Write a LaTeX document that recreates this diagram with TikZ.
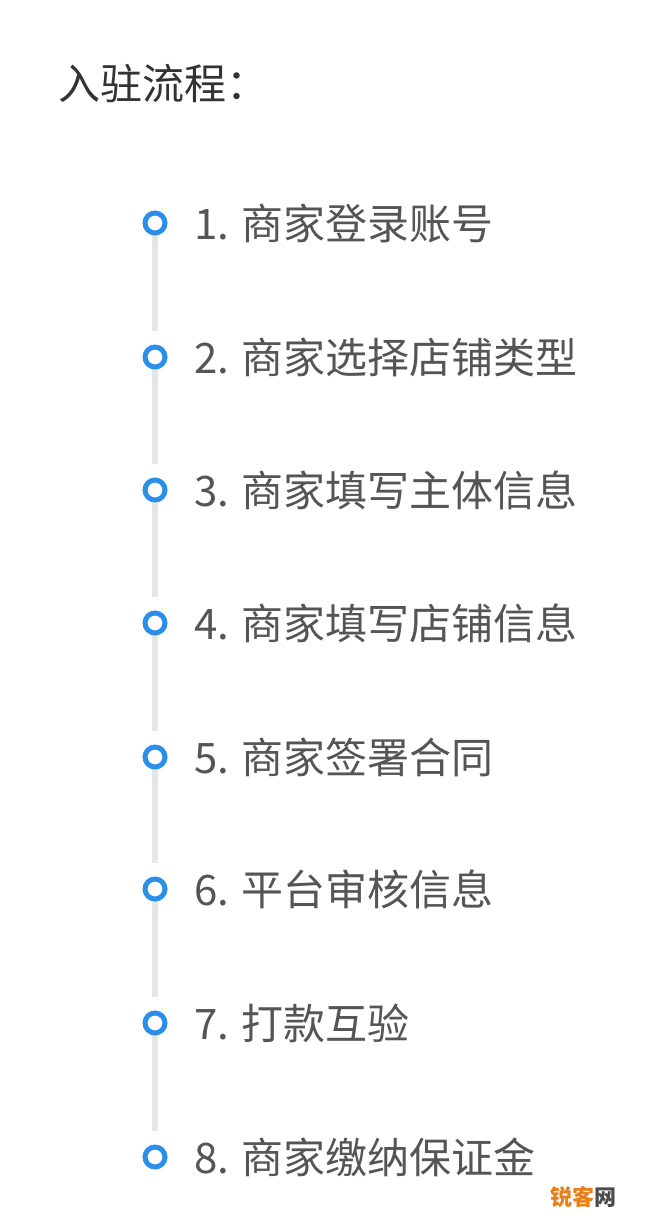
\documentclass[tikz,border=0pt]{standalone}
\usepackage{fontspec}
\newfontfamily\cjk{Noto Sans CJK SC}
\definecolor{dotblue}{HTML}{2B8FE8}
\definecolor{railgray}{HTML}{E6E6E6}
\definecolor{txtgray}{HTML}{555555}
\definecolor{wmorange}{HTML}{E8801A}
\begin{document}
\begin{tikzpicture}[x=1pt,y=-1pt,
  dot/.style={circle,draw=dotblue,line width=5pt,fill=white,minimum size=20pt,inner sep=0pt},
  rail/.style={draw=railgray,line width=6pt},
  item/.style={anchor=west,text=txtgray,font=\cjk\fontsize{42}{46}\selectfont,inner sep=0pt}]
\useasboundingbox[fill=white] (0,0) rectangle (669,1232);
\node[anchor=west,inner sep=0pt,text=black!80,font=\cjk\fontsize{42}{46}\selectfont] (title) at (58,83) {入驻流程：};
\foreach \i/\y/\t in {1/223/1. 商家登录账号,2/357/2. 商家选择店铺类型,3/490/3. 商家填写主体信息,4/623/4. 商家填写店铺信息,5/757/5. 商家签署合同,6/889/6. 平台审核信息,7/1023/7. 打款互验,8/1157/8. 商家缴纳保证金}{
  \coordinate (c\i) at (155,\y);
  \node[item] (t\i) at (194,\y) {\t};
}
\foreach \a/\b in {1/2,2/3,3/4,4/5,5/6,6/7,7/8}{
  \draw[rail] (c\a) -- ([yshift=26pt]c\b);
}
\foreach \i in {1,...,8}{\node[dot] (d\i) at (c\i) {};}
\node[inner sep=0pt,font=\cjk\bfseries\fontsize{22}{24}\selectfont] (wm) at (583,1197) {\textcolor{wmorange}{锐客}\textcolor{black!70}{网}};
\end{tikzpicture}
\end{document}
